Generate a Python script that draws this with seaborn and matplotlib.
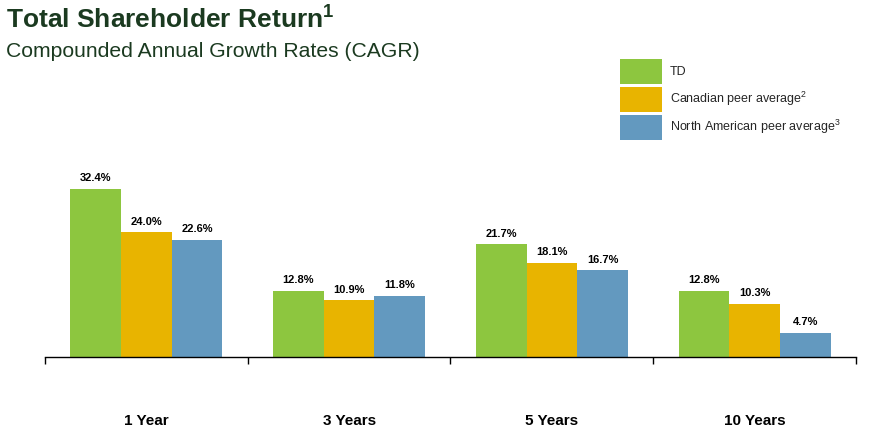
import matplotlib
matplotlib.use("Agg")
import matplotlib.pyplot as plt
import seaborn as sns
import pandas as pd

periods = ["1 Year", "3 Years", "5 Years", "10 Years"]
series = ["TD", "Canadian peer average$^{2}$", "North American peer average$^{3}$"]
td = [32.4, 12.8, 21.7, 12.8]
canadian = [24.0, 10.9, 18.1, 10.3]
north_american = [22.6, 11.8, 16.7, 4.7]
colors = ["#8DC63F", "#E8B400", "#6399BF"]

rows = []
for name, vals in zip(series, [td, canadian, north_american]):
    for p, v in zip(periods, vals):
        rows.append({"period": p, "series": name, "value": v})
df = pd.DataFrame(rows)

sns.set_style("white")
plt.rcParams["font.family"] = ["Liberation Sans", "DejaVu Sans"]
plt.rcParams["mathtext.fontset"] = "custom"
plt.rcParams["mathtext.rm"] = "Liberation Sans"
plt.rcParams["mathtext.bf"] = "Liberation Sans:bold"

fig = plt.figure(figsize=(8.7, 4.28), dpi=100)
ax = fig.add_axes([45 / 870, 71 / 428, 811 / 870, 0.5])

sns.barplot(data=df, x="period", y="value", hue="series", palette=colors,
            width=0.75, saturation=1, ax=ax, edgecolor="none")

for cont in ax.containers:
    ax.bar_label(cont, labels=[f"{v:.1f}%" for v in cont.datavalues],
                 padding=4, fontsize=8, fontweight="bold", color="black")

ax.set_xlim(-0.5, 3.5)
ax.set_ylim(0, 41.2)
ax.set_xlabel("")
ax.set_ylabel("")
ax.set_yticks([])
for s in ["left", "top", "right"]:
    ax.spines[s].set_visible(False)
ax.spines["bottom"].set_color("black")
ax.spines["bottom"].set_linewidth(1)

ax.set_xticks([-0.5, 0.5, 1.5, 2.5, 3.5])
ax.set_xticklabels([])
ax.tick_params(axis="x", which="major", direction="out", length=5, width=1,
               color="black", bottom=True)
ax.set_xticks(range(len(periods)), minor=True)
ax.set_xticklabels(periods, minor=True, fontsize=11, fontweight="bold",
                   color="black")
ax.tick_params(axis="x", which="minor", length=0, pad=41)

handles, labels = ax.get_legend_handles_labels()
ax.get_legend().remove()
fig.legend(handles, labels, loc="upper left", bbox_to_anchor=(620 / 870, 1 - 59 / 428),
           frameon=False, fontsize=9, handlelength=3.4, handleheight=2.7,
           labelspacing=0.22, handletextpad=0.6, borderpad=0, borderaxespad=0)

fig.text(6 / 870, 1 - 5 / 428, r"Total Shareholder Return$^{\mathbf{1}}$",
         fontsize=19, fontweight="bold", color="#1B3A20", va="top")
fig.text(6 / 870, 1 - 42 / 428, "Compounded Annual Growth Rates (CAGR)",
         fontsize=15.2, color="#1B3A20", va="top")

fig.savefig("out.png", dpi=100)
